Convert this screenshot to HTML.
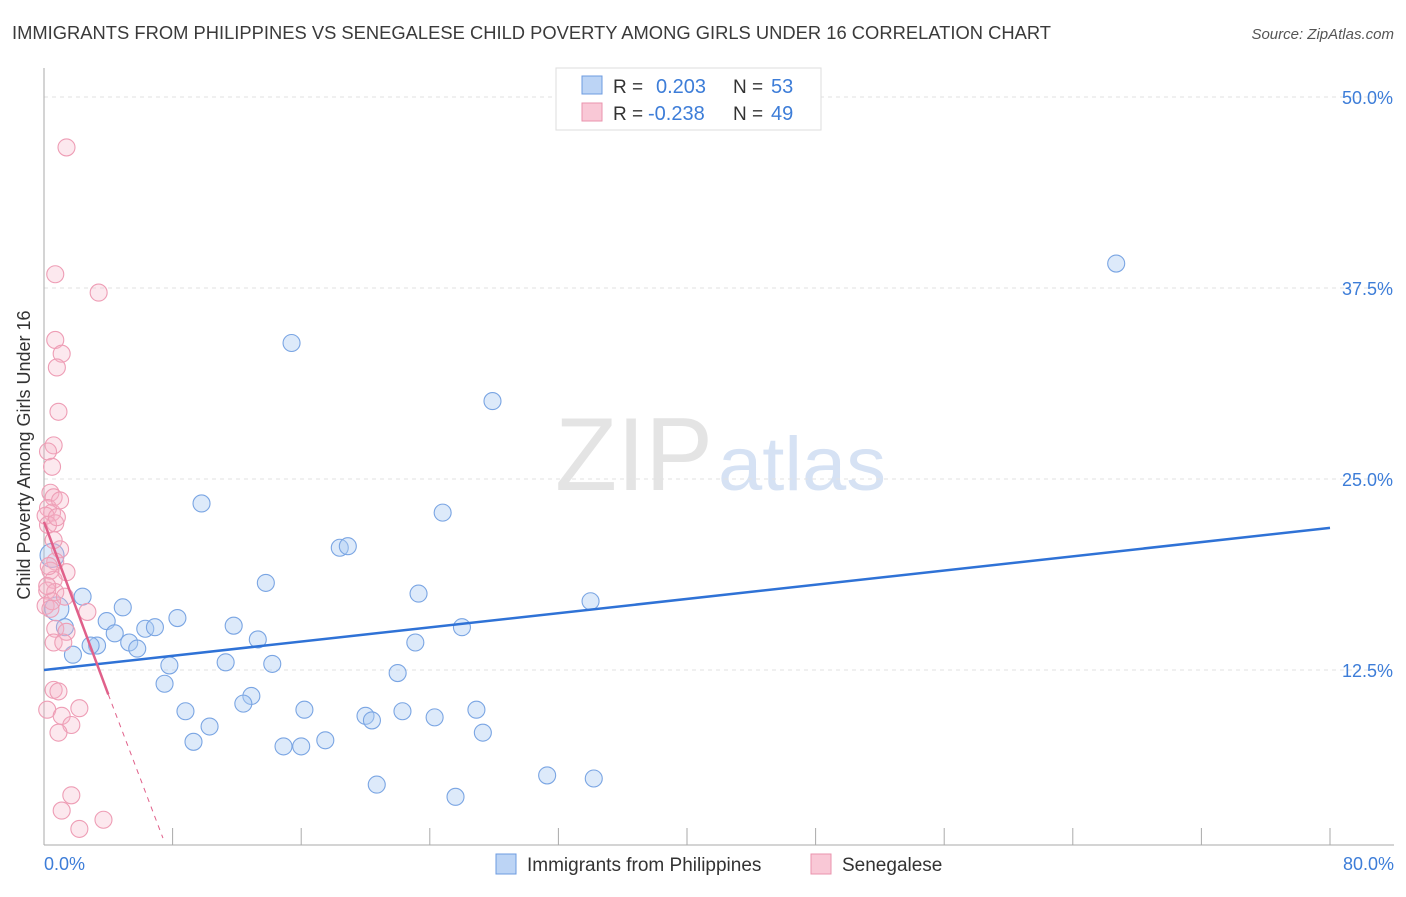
<!DOCTYPE html>
<html><head><meta charset="utf-8"><style>
body{margin:0;background:#fff;font-family:"Liberation Sans",sans-serif;}
svg text{font-family:"Liberation Sans",sans-serif;}
</style></head><body>
<svg id="c" width="1406" height="892">
<text x="12" y="39" font-size="18" fill="#3a3a3a" textLength="1039" lengthAdjust="spacingAndGlyphs">IMMIGRANTS FROM PHILIPPINES VS SENEGALESE CHILD POVERTY AMONG GIRLS UNDER 16 CORRELATION CHART</text>
<text x="1394" y="39" font-size="15" fill="#555" text-anchor="end" font-style="italic">Source: ZipAtlas.com</text>
<text x="555" y="490" font-size="104" fill="#e4e4e4" textLength="158" lengthAdjust="spacingAndGlyphs" font-family="Liberation Serif">ZIP</text>
<text x="718" y="490" font-size="76" fill="#d6e2f4" textLength="168" lengthAdjust="spacingAndGlyphs">atlas</text>
<g id="grid"></g><g id="axes"></g><g id="pts"></g><g id="lines"></g>
<text x="30" y="455" font-size="18" fill="#333" text-anchor="middle" transform="rotate(-90 30 455)">Child Poverty Among Girls Under 16</text>
<text x="44" y="870" font-size="18" fill="#3d7dd8">0.0%</text>
<text x="1394" y="870" font-size="18" fill="#3d7dd8" text-anchor="end">80.0%</text>
<g>
<rect x="556" y="68" width="265" height="62" fill="#fff" stroke="#ddd"/>
<rect x="582" y="76" width="20" height="18" fill="#bcd4f5" stroke="#6d9be0"/>
<rect x="582" y="103" width="20" height="18" fill="#f9c8d6" stroke="#ea93ad"/>
<text x="613" y="93" font-size="19" fill="#333">R = </text><text x="656" y="93" font-size="20" fill="#3d7dd8">0.203</text>
<text x="733" y="93" font-size="19" fill="#333">N = </text><text x="771" y="93" font-size="20" fill="#3d7dd8">53</text>
<text x="613" y="120" font-size="19" fill="#333">R = </text><text x="648" y="120" font-size="20" fill="#3d7dd8">-0.238</text>
<text x="733" y="120" font-size="19" fill="#333">N = </text><text x="771" y="120" font-size="20" fill="#3d7dd8">49</text>
</g>
<g>
<rect x="496" y="854" width="20" height="20" fill="#bcd4f5" stroke="#6d9be0"/>
<text x="527" y="871" font-size="19" fill="#333">Immigrants from Philippines</text>
<rect x="811" y="854" width="20" height="20" fill="#f9c8d6" stroke="#ea93ad"/>
<text x="842" y="871" font-size="19" fill="#333">Senegalese</text>
</g>
</svg>
<script>
const yTicks=[12.5,25,37.5,50];
const yTickLabels=["12.5%","25.0%","37.5%","50.0%"];
const xTicks=[8,16,24,32,40,48,56,64,72,80];
const blueX=[66.7,15.4,27.9,9.8,24.8,18.4,18.9,13.8,23.3,34.0,2.4,4.9,3.9,8.3,0.8,1.3,4.4,6.3,6.9,11.8,26.0,5.3,5.8,3.3,2.9,1.8,13.3,23.1,7.8,11.3,14.2,22.0,7.5,12.9,12.4,8.8,16.2,20.0,20.4,22.3,24.3,26.9,10.3,27.3,9.3,17.5,14.9,16.0,31.3,34.2,20.7,25.6,0.5];
const blueY=[39.1,33.9,30.1,23.4,22.8,20.5,20.6,18.2,17.5,17.0,17.3,16.6,15.7,15.9,16.5,15.3,14.9,15.2,15.3,15.4,15.3,14.3,13.9,14.1,14.1,13.5,14.5,14.3,12.8,13.0,12.9,12.3,11.6,10.8,10.3,9.8,9.9,9.5,9.2,9.8,9.4,9.9,8.8,8.4,7.8,7.9,7.5,7.5,5.6,5.4,5.0,4.2,20.0];
const pinkX=[1.4,0.7,3.4,0.7,1.1,0.8,0.9,0.6,0.25,0.5,0.4,0.6,0.25,0.5,0.1,0.7,0.25,1.0,0.7,1.4,0.4,0.6,0.2,0.7,2.7,0.7,1.4,0.6,1.2,0.6,0.9,0.2,1.1,2.2,1.7,0.9,1.7,1.1,2.2,3.7,0.1,1.0,0.3,0.5,0.8,0.2,0.4,0.6,1.3];
const pinkY=[46.7,38.4,37.2,34.1,33.2,32.3,29.4,27.2,26.8,25.8,24.1,23.8,23.1,22.8,22.6,22.1,22.0,20.4,19.6,18.9,19.0,18.4,17.7,17.6,16.3,15.2,15.0,14.3,14.3,11.2,11.1,9.9,9.5,10.0,8.9,8.4,4.3,3.3,2.1,2.7,16.7,23.6,19.3,17.0,22.5,18.0,16.5,21.0,17.3];
const blueLine=[[0,12.5],[80,21.8]];
const pinkSolid=[[0,22.2],[4,10.9]];
const pinkDash=[[4,10.9],[7.4,1.5]];
const X=v=>44+v*16.075, Y=v=>861-v*15.28;
const NS="http://www.w3.org/2000/svg";
function mk(p,t,a){const e=document.createElementNS(NS,t);for(const k in a)e.setAttribute(k,a[k]);document.getElementById(p).appendChild(e);return e;}
yTicks.forEach((t,i)=>{
 const l=mk('grid','line',{x1:44,x2:1394,y1:Y(t),y2:Y(t),stroke:'#e2e2e2','stroke-dasharray':'4 4'});
 
 
 const tx=mk('grid','text',{x:1393,y:Y(t)+7,'font-size':18,fill:'#3d7dd8','text-anchor':'end'});tx.textContent=yTickLabels[i];
 
 
});
const ax=mk('axes','line',{x1:44,x2:44,y1:68,y2:845,stroke:'#aaa'});


const bx=mk('axes','line',{x1:44,x2:1394,y1:845,y2:845,stroke:'#aaa'});


xTicks.forEach(t=>{const l=mk('axes','line',{x1:X(t),x2:X(t),y1:828,y2:845,stroke:'#aaa'});
 
 });
blueX.forEach((x,i)=>{const big=(x<1&&blueY[i]>15)?12:8.5;
 const c=mk('pts','circle',{cx:X(x),cy:Y(blueY[i]),r:big,fill:'rgba(170,202,242,0.4)',stroke:'#7aa5e3','stroke-width':1.1});
 
 });
pinkX.forEach((x,i)=>{
 const c=mk('pts','circle',{cx:X(x),cy:Y(pinkY[i]),r:8.5,fill:'rgba(246,180,198,0.3)',stroke:'#ee9db5','stroke-width':1.1});
 
 });
const bl=mk('lines','line',{x1:X(blueLine[0][0]),y1:Y(blueLine[0][1]),x2:X(blueLine[1][0]),y2:Y(blueLine[1][1]),stroke:'#2f72d6','stroke-width':2.5});


const pl=mk('lines','line',{x1:X(pinkSolid[0][0]),y1:Y(pinkSolid[0][1]),x2:X(pinkSolid[1][0]),y2:Y(pinkSolid[1][1]),stroke:'#e0608a','stroke-width':2.5});


const pd=mk('lines','line',{x1:X(pinkDash[0][0]),y1:Y(pinkDash[0][1]),x2:X(pinkDash[1][0]),y2:Y(pinkDash[1][1]),stroke:'#e0608a','stroke-width':1,'stroke-dasharray':'5 5'});


</script>
</body></html>
